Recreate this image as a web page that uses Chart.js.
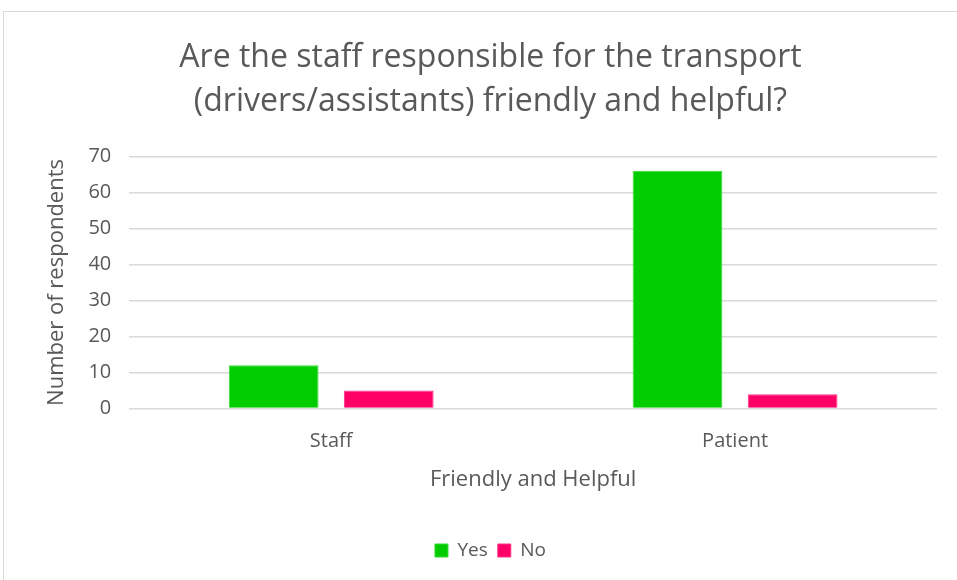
<!DOCTYPE html>
<html>
<head>
<meta charset="utf-8">
<script src="https://cdn.jsdelivr.net/npm/chart.js@4"></script>
<style>
  html, body { margin: 0; padding: 0; background: #fff; }
  #frame {
    position: absolute; left: 3px; top: 11px; width: 980px; height: 600px;
    border: 1px solid #d9d9d9; box-sizing: border-box;
  }
  #wrap { position: absolute; left: 0; top: 0; width: 957px; height: 580px; }
</style>
</head>
<body>
<div id="frame"></div>
<div id="wrap"><canvas id="barChart"></canvas></div>
<script>
// Chart data
const categories = ["Staff", "Patient"];
const yesValues = [12, 66];
const noValues = [5, 4];
const yTicks = [0, 10, 20, 30, 40, 50, 60, 70];

const textColor = "#595959";
const fontName = "'Open Sans', sans-serif";

const ctx = document.getElementById("barChart").getContext("2d");
new Chart(ctx, {
  type: "bar",
  data: {
    labels: categories,
    datasets: [
      {
        label: "Yes",
        data: yesValues,
        backgroundColor: "#00cc00",
        borderColor: "#33dd33",
        borderWidth: 1,
      },
      {
        label: "No",
        data: noValues,
        backgroundColor: "#ff0066",
        borderColor: "#ff3388",
        borderWidth: 1,
      },
    ],
  },
  options: {
    responsive: true,
    maintainAspectRatio: false,
    animation: false,
    categoryPercentage: 0.57,
    barPercentage: 0.78,
    layout: {
      padding: { left: 44, right: 20, top: 0, bottom: 10 },
    },
    plugins: {
      title: {
        display: true,
        text: [
          "Are the staff responsible for the transport",
          "(drivers/assistants) friendly and helpful?",
        ],
        color: textColor,
        font: { family: fontName, size: 32, weight: "normal", lineHeight: 1.38 },
        padding: { top: 36, bottom: 32 },
      },
      legend: {
        position: "bottom",
        labels: {
          color: textColor,
          font: { family: fontName, size: 19 },
          boxWidth: 13,
          boxHeight: 13,
          padding: 10,
        },
      },
      tooltip: { enabled: false },
    },
    scales: {
      x: {
        grid: { display: false },
        border: { display: false },
        ticks: {
          color: textColor,
          font: { family: fontName, size: 20 },
          padding: 13,
        },
        title: {
          display: true,
          text: "Friendly and Helpful",
          color: textColor,
          font: { family: fontName, size: 22 },
          padding: { top: 0, bottom: 38 },
        },
      },
      y: {
        min: 0,
        max: 70,
        afterBuildTicks: (axis) => {
          axis.ticks = yTicks.map((v) => ({ value: v }));
        },
        grid: { color: "#d9d9d9", lineWidth: 1.5, drawTicks: false },
        border: { display: false },
        ticks: {
          color: textColor,
          font: { family: fontName, size: 20 },
          padding: 18,
        },
        title: {
          display: true,
          text: "Number of respondents",
          color: textColor,
          font: { family: fontName, size: 22 },
          padding: { top: 0, bottom: 0 },
        },
      },
    },
  },
});
</script>
</body>
</html>
